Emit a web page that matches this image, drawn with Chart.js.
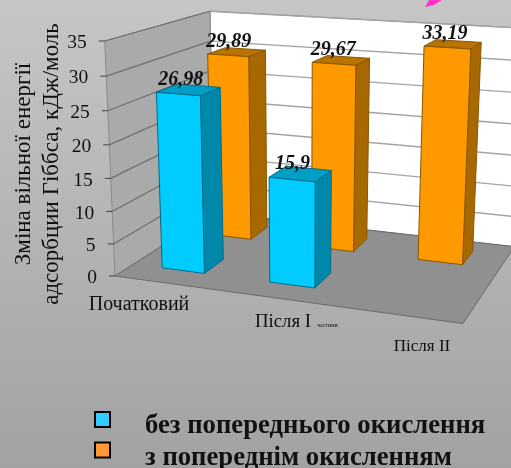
<!DOCTYPE html>
<html lang="uk">
<head>
    <meta charset="UTF-8">
    <title>Зміна вільної енергії адсорбции Гіббса</title>
    <script src="https://cdn.jsdelivr.net/npm/chart.js"></script>
    <style>
        html, body { margin: 0; padding: 0; }
        body { width: 511px; height: 468px; overflow: hidden; background: linear-gradient(180deg, #c6c6c6, #a2a2a2); }
        canvas { display: block; }
    </style>
</head>
<body>
    <canvas id="chart" width="511" height="468"></canvas>

    <script>
        const categories = ['Початковий', 'Після I', 'Після II'];
        const categoryNote = 'частини';
        const withoutOxidation = [26.98, 15.9, null];
        const withOxidation = [29.89, 29.67, 33.19];
        const seriesNames = ['без попереднього окислення', 'з попереднім окисленням'];
        const axisTitle = ['Зміна вільної енергії', 'адсорбции Гіббса, кДж/моль'];

        const FONT = '"Liberation Serif", "Times New Roman", serif';

        // Camera: vanishing points of the three box directions and their weights
        const origin = { x: 115, y: 276 };
        const across = { k: -0.0963, x: -3150, y: -170 };
        const up = { k: -0.0527, x: 300, y: 4500 };
        const deep = { k: 0.175, x: 780, y: -150 };

        // u along categories, v along values, w into the picture, all 0..1
        function project(u, v, w) {
            const d = 1 + across.k * u + up.k * v + deep.k * w;
            return {
                x: (origin.x + across.k * across.x * u + up.k * up.x * v + deep.k * deep.x * w) / d,
                y: (origin.y + across.k * across.y * u + up.k * up.y * v + deep.k * deep.y * w) / d
            };
        }

        function polygon(ctx, points, fill, stroke, lineWidth) {
            ctx.beginPath();
            points.forEach((p, i) => i ? ctx.lineTo(p.x, p.y) : ctx.moveTo(p.x, p.y));
            ctx.closePath();
            if (fill) {
                ctx.fillStyle = fill;
                ctx.fill();
            }
            if (stroke) {
                ctx.strokeStyle = stroke;
                ctx.lineWidth = lineWidth || 1;
                ctx.stroke();
            }
        }

        function line(ctx, a, b, color, width) {
            ctx.beginPath();
            ctx.moveTo(a.x, a.y);
            ctx.lineTo(b.x, b.y);
            ctx.strokeStyle = color;
            ctx.lineWidth = width;
            ctx.stroke();
        }

        function text(ctx, str, x, y, font, align) {
            ctx.font = font;
            ctx.fillStyle = '#111';
            ctx.textAlign = align || 'center';
            ctx.textBaseline = 'middle';
            ctx.fillText(str, x, y);
        }

        // Flat chart pixels to 0..1 box coordinates; bars sit a little left of the category centre
        const barShift = -0.008;
        function toU(chart, px) {
            const area = chart.chartArea;
            return (px - area.left) / (area.right - area.left) + barShift;
        }
        function toV(chart, py) {
            const area = chart.chartArea;
            return (area.bottom - py) / (area.bottom - area.top);
        }

        const seriesStyle = [
            { near: 0.165, far: 0.36, front: '#00ccff', side: '#0088aa', top: '#009fc6', edge: '#006b88', legend: '#33ccff' },
            { near: 0.67, far: 0.865, front: '#ff9900', side: '#a86800', top: '#b87300', edge: '#8a5600', legend: '#ff9933' }
        ];

        const categoryLabels = [
            { x: 139, y: 305, size: 20 },
            { x: 283, y: 322, size: 18.8 },
            { x: 422, y: 347, size: 17 }
        ];

        const room3d = {
            id: 'room3d',

            // walls, floor, grid and value axis
            beforeDatasetsDraw(chart) {
                const ctx = chart.ctx;
                const yScale = chart.scales.y;

                polygon(ctx, [project(0, 0, 1), project(1, 0, 1), project(1, 1, 1), project(0, 1, 1)], '#ffffff', '#8f8f8f', 1);
                polygon(ctx, [project(0, 0, 0), project(0, 0, 1), project(0, 1, 1), project(0, 1, 0)], '#aaaaaa', '#8a8a8a', 1);
                polygon(ctx, [project(0, 0, 0), project(1, 0, 0), project(1, 0, 1), project(0, 0, 1)], '#909090', '#6a6a6a', 1);

                yScale.ticks.forEach(tick => {
                    const v = toV(chart, yScale.getPixelForValue(tick.value));
                    if (tick.value > 0) {
                        line(ctx, project(0, v, 1), project(1, v, 1), '#a3a3a3', 1.4);
                        line(ctx, project(0, v, 0), project(0, v, 1), '#6e6e6e', 1.2);
                    }
                    const p = project(0, v, 0);
                    line(ctx, { x: p.x - 6, y: p.y }, p, '#444', 1);
                    text(ctx, String(tick.value), p.x - 18, p.y + 2, '19.5px ' + FONT, 'right');
                });

                // axis title, rotated
                ctx.save();
                ctx.translate(24, 164);
                ctx.rotate(-Math.PI / 2);
                text(ctx, axisTitle[0], 0, 0, '23px ' + FONT);
                ctx.restore();
                ctx.save();
                ctx.translate(52, 164);
                ctx.rotate(-Math.PI / 2);
                text(ctx, axisTitle[1], 0, 0, '23px ' + FONT);
                ctx.restore();

                categories.forEach((name, i) => {
                    const l = categoryLabels[i];
                    text(ctx, name, l.x, l.y, l.size + 'px ' + FONT);
                });
                text(ctx, categoryNote, 317, 325, '6px ' + FONT, 'left');

                // scrap of an arrow at the top edge of the slide
                polygon(ctx, [{ x: 425, y: 7 }, { x: 429, y: 0 }, { x: 442, y: 0 }, { x: 434, y: 5 }], '#ff33cc');
            },

            // each bar element becomes a box
            beforeDatasetDraw(chart, args) {
                const ctx = chart.ctx;
                const style = seriesStyle[args.index];
                const dataset = chart.data.datasets[args.index];

                args.meta.data.forEach((bar, i) => {
                    if (dataset.data[i] == null) return;
                    const u0 = toU(chart, bar.x - bar.width / 2);
                    const u1 = toU(chart, bar.x + bar.width / 2);
                    const v1 = toV(chart, bar.y);
                    const v0 = toV(chart, bar.base);
                    const n = style.near;
                    const f = style.far;

                    polygon(ctx, [project(u1, v0, n), project(u1, v0, f), project(u1, v1, f), project(u1, v1, n)], style.side, style.edge);
                    polygon(ctx, [project(u0, v1, n), project(u1, v1, n), project(u1, v1, f), project(u0, v1, f)], style.top, style.edge);
                    polygon(ctx, [project(u0, v0, n), project(u1, v0, n), project(u1, v1, n), project(u0, v1, n)], style.front, style.edge);
                });
                return false;
            },

            // value labels and legend go above every box
            afterDatasetsDraw(chart) {
                const ctx = chart.ctx;

                chart.data.datasets.forEach((dataset, d) => {
                    const style = seriesStyle[d];
                    chart.getDatasetMeta(d).data.forEach((bar, i) => {
                        if (dataset.data[i] == null) return;
                        const p = project(toU(chart, bar.x), toV(chart, bar.y), (style.near + style.far) / 2);
                        text(ctx, String(dataset.data[i]).replace('.', ','), p.x - 8, p.y - 10, 'italic bold 20px ' + FONT);
                    });

                    const y = d ? 450 : 419.5;
                    polygon(ctx, [{ x: 95, y: y - 7.5 }, { x: 110, y: y - 7.5 }, { x: 110, y: y + 7.5 }, { x: 95, y: y + 7.5 }], style.legend, '#000', 2);
                    text(ctx, dataset.label, 145, d ? 458 : 426, 'bold 26.7px ' + FONT, 'left');
                });
            }
        };

        new Chart(document.getElementById('chart'), {
            type: 'bar',
            data: {
                labels: categories,
                datasets: [
                    { label: seriesNames[0], data: withoutOxidation },
                    { label: seriesNames[1], data: withOxidation }
                ]
            },
            options: {
                responsive: false,
                animation: false,
                grouped: false,
                barPercentage: 0.4,
                categoryPercentage: 1,
                plugins: { legend: { display: false }, tooltip: { enabled: false } },
                scales: {
                    x: { display: false },
                    y: { display: false, min: 0, max: 35, ticks: { stepSize: 5 } }
                }
            },
            plugins: [room3d]
        });
    </script>
</body>
</html>
